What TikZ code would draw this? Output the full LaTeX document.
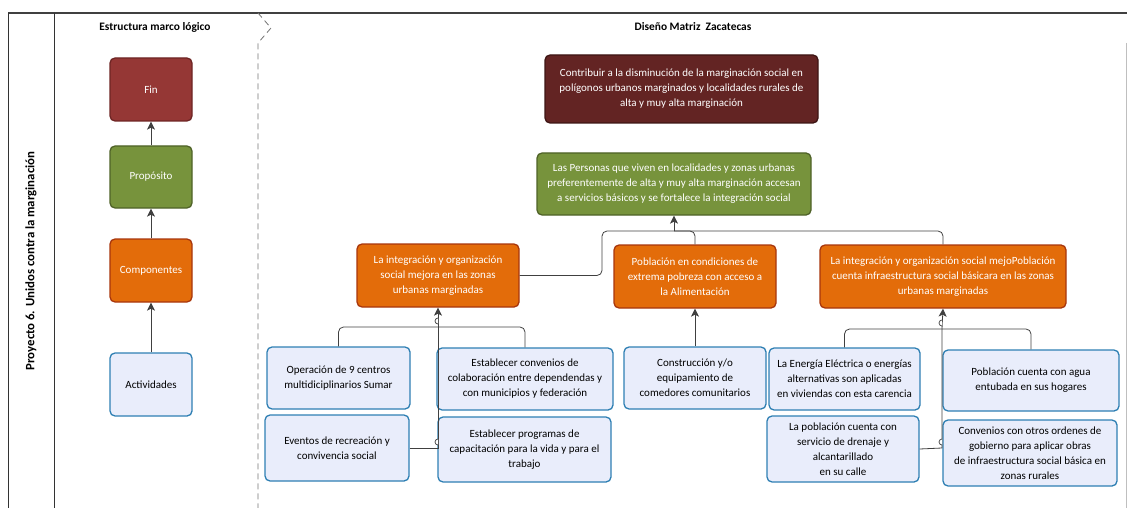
\documentclass[tikz,border=0pt]{standalone}
\usepackage{fontspec}
\setmainfont{Carlito}
\usetikzlibrary{arrows.meta}
\definecolor{finred}{HTML}{953735}
\definecolor{finredb}{HTML}{6E2524}
\definecolor{mfinred}{HTML}{632423}
\definecolor{mfinredb}{HTML}{3E1514}
\definecolor{propgreen}{HTML}{77933C}
\definecolor{propgreenb}{HTML}{4F6228}
\definecolor{comporange}{HTML}{E36C0A}
\definecolor{comporangeb}{HTML}{A8360C}
\definecolor{actfill}{HTML}{E9EDFB}
\definecolor{actborder}{HTML}{2E7FB3}
\definecolor{linegray}{HTML}{404040}
\tikzset{
  box/.style={rounded corners=5pt, line width=1.3pt, align=center, inner sep=2pt,
    font=\fontsize{11}{15}\selectfont},
  finbox/.style={box, fill=finred, draw=finredb, text=white},
  mfinbox/.style={box, fill=mfinred, draw=mfinredb, text=white},
  propbox/.style={box, fill=propgreen, draw=propgreenb, text=white},
  compbox/.style={box, fill=comporange, draw=comporangeb, text=white},
  actbox/.style={box, fill=actfill, draw=actborder, text=black},
  conn/.style={draw=linegray, line width=0.8pt, rounded corners=5pt},
  arr/.style={draw=linegray, line width=0.8pt, -{Stealth[length=8pt,width=8pt,inset=2pt]}},
  hdr/.style={font=\bfseries\fontsize{11.4}{13}\selectfont},
}
\begin{document}
\begin{tikzpicture}[x=1pt,y=-1pt]
\useasboundingbox (0,0) rectangle (1127,508);
% frame
\draw[line width=1.4pt, draw=black!75] (8,13) -- (1127,13);
\draw[line width=0.8pt, draw=black!80] (8,13) -- (8,508);
\draw[line width=0.8pt, draw=black!80] (54,13) -- (54,508);
\draw[line width=1pt, draw=black!25] (1126,43) -- (1126,508);
\draw[line width=0.8pt, draw=black!55, dash pattern=on 6pt off 4pt] (258,13) -- (271,28) -- (258,43) -- (258,508);
% headers
\node[hdr] (h1) at (155,27) {Estructura marco lógico};
\node[hdr] (h2) at (693,27) {Diseño Matriz\ \ Zacatecas};
\node[hdr, font=\bfseries\fontsize{12.8}{14}\selectfont, rotate=90] (h3) at (31,261) {Proyecto 6. Unidos contra la marginación};
% left structure
\node[finbox, minimum width=82pt, minimum height=63pt] (fin) at (151,89.5) {Fin};
\node[propbox, minimum width=82pt, minimum height=62pt] (prop) at (151,177) {Propósito};
\node[compbox, minimum width=82pt, minimum height=63pt] (comp) at (151,270.5) {Componentes};
\node[actbox, minimum width=82pt, minimum height=63pt] (act) at (151,384.5) {Actividades};
\draw[arr] (act.north) -- (comp.south);
\draw[arr] (comp.north) -- (prop.south);
\draw[arr] (prop.north) -- (fin.south);
% main matrix
\node[mfinbox, minimum width=273pt, minimum height=68pt] (mfin) at (681.5,89) {Contribuir a la disminución de la marginación social en\\polígonos urbanos marginados y localidades rurales de\\alta y muy alta marginación};
\node[propbox, minimum width=274pt, minimum height=62pt] (mprop) at (674,184) {Las Personas que viven en localidades y zonas urbanas\\preferentemente de alta y muy alta marginación accesan\\a servicios básicos y se fortalece la integración social};
\node[compbox, minimum width=162pt, minimum height=63pt] (c1) at (438,275.5) {La integración y organización\\social mejora en las zonas\\urbanas marginadas};
\node[compbox, minimum width=162pt, minimum height=63pt] (c2) at (695,276.5) {Población en condiciones de\\extrema pobreza con acceso a\\la Alimentación};
\node[compbox, minimum width=246pt, minimum height=63pt] (c3) at (943,276.5) {La integración y organización social mejoPoblación\\cuenta infraestructura social básicara en las zonas\\urbanas marginadas};
% activities
\node[actbox, minimum width=143pt, minimum height=62pt] (a1) at (338.5,378) {Operación de 9 centros\\multidiciplinarios Sumar};
\node[actbox, minimum width=176pt, minimum height=62pt] (a2) at (525,379) {Establecer convenios de\\colaboración entre dependendas y\\con municipios y federación};
\node[actbox, minimum width=144pt, minimum height=66pt] (a3) at (337,448) {Eventos de recreación y\\convivencia social};
\node[actbox, minimum width=173pt, minimum height=65pt] (a4) at (524.5,449.5) {Establecer programas de\\capacitación para la vida y para el\\trabajo};
\node[actbox, minimum width=142pt, minimum height=62pt] (a5) at (695,378) {Construcción y/o\\equipamiento de\\comedores comunitarios};
\node[actbox, minimum width=151pt, minimum height=62pt] (a6) at (844.5,379) {La Energía Eléctrica o energías\\alternativas son aplicadas\\en viviendas con esta carencia};
\node[actbox, minimum width=176pt, minimum height=61pt] (a7) at (1031,380.5) {Población cuenta con agua\\entubada en sus hogares};
\node[actbox, minimum width=152pt, minimum height=66pt] (a8) at (843,449) {La población cuenta con\\servicio de drenaje y\\alcantarillado\\en su calle};
\node[actbox, minimum width=174pt, minimum height=66pt] (a9) at (1030,453) {Convenios con otros ordenes de\\gobierno para aplicar obras\\de infraestructura social básica en\\zonas rurales};
% junctions
\coordinate (jtop) at (674,231);
\coordinate (jl) at (438,327);
\coordinate (jr) at (942,329);
% top connectors
\draw[conn] (c1.east) -- (602,275.5) -- (602,231) -- (jtop);
\draw[conn] (c2.north) |- (jtop);
\draw[conn] (c3.north) |- (jtop);
\draw[arr] (jtop) -- (mprop.south);
% left activity group
\draw[conn] (a1.north) |- (jl);
\draw[conn] (a2.north) |- (jl);
\draw[conn, rounded corners=0pt] (a3.east) -- (438,448) -- (jl);
\draw[arr] (jl) -- (c1.south);
% middle
\draw[arr] (a5.north) -- (c2.south);
% right activity group
\draw[conn] (a6.north) |- (jr);
\draw[conn] (a7.north) |- (jr);
\draw[conn, rounded corners=0pt] (a8.east) -- (942,448) -- (jr);
\draw[arr] (jr) -- (c3.south);
% hops
\draw[draw=linegray, line width=0.7pt, fill=white] (438,324) arc (90:270:3);
\draw[draw=linegray, line width=0.7pt, fill=white] (438,445) arc (90:270:3);
\draw[draw=linegray, line width=0.7pt, fill=white] (942,326) arc (90:270:3);
\draw[draw=linegray, line width=0.7pt, fill=white] (942,445) arc (90:270:3);
\end{tikzpicture}
\end{document}
